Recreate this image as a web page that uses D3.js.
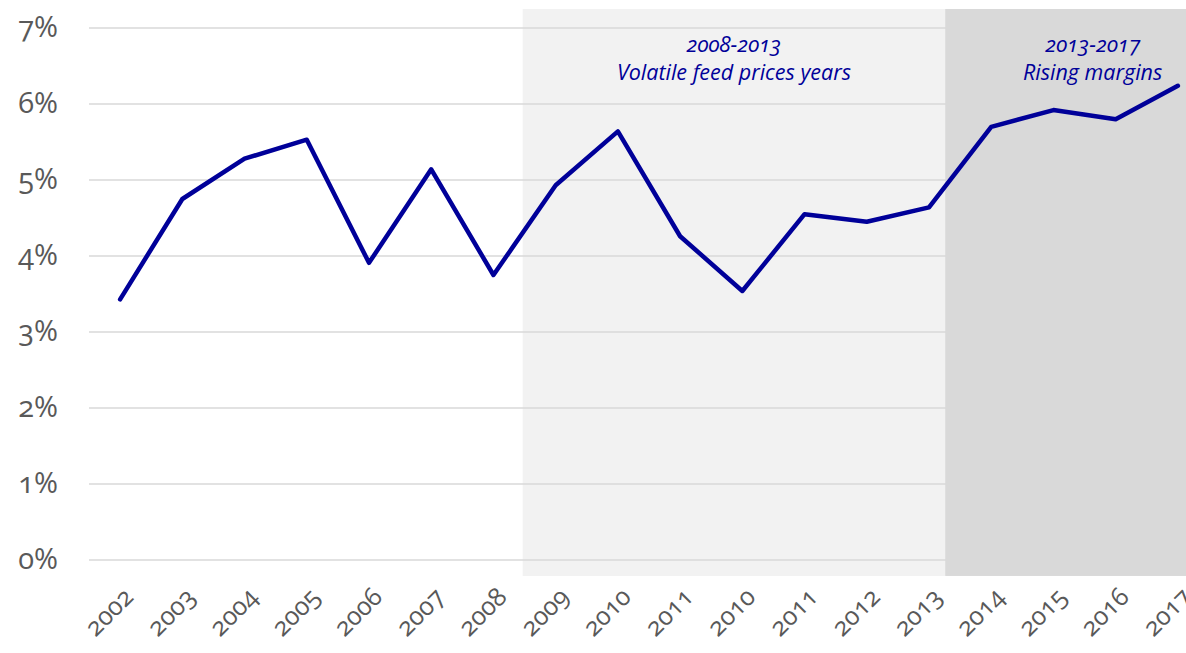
<!DOCTYPE html>
<html>
<head>
<meta charset="utf-8">
<script src="https://cdn.jsdelivr.net/npm/d3@7"></script>
<style>
  html, body { margin: 0; padding: 0; background: #fff; overflow: hidden; }
  svg { display: block; }
  svg text { font-family: "Open Sans", "Noto Sans", sans-serif; font-variant-numeric: oldstyle-nums; font-feature-settings: "onum" 1; }
</style>
</head>
<body>
<svg id="chart" width="1186" height="653"></svg>
<script>
// Category labels along the x axis (the series repeats 2010 and 2011)
const years = ["2002","2003","2004","2005","2006","2007","2008","2009","2010","2011",
               "2010","2011","2012","2013","2014","2015","2016","2017"];
// Margin, in percent
const margin = [3.43, 4.75, 5.28, 5.53, 3.91, 5.14, 3.75, 4.93, 5.64, 4.26,
                3.54, 4.55, 4.45, 4.64, 5.70, 5.92, 5.80, 6.24];
// Y tick values (percent)
const yTicks = [0, 1, 2, 3, 4, 5, 6, 7];
// Shaded periods, given as positions on the category index axis
const periodLabels = ["2008-2013", "2013-2017"];
const periodNotes = ["Volatile feed prices years", "Rising margins"];
const periodFrom = [6.47, 13.26];
const periodTo = [13.26, 17.5];
const periodFill = ["#f2f2f2", "#d9d9d9"];

const svg = d3.select("#chart");
const plot = { left: 89, right: 1209, top: 28, bottom: 560 };

const x = d3.scalePoint()
  .domain(d3.range(years.length))
  .range([plot.left, plot.right])
  .padding(0.5);
const step = x.step();
const xi = d3.scaleLinear()
  .domain([0, years.length - 1])
  .range([x(0), x(years.length - 1)]);

const y = d3.scaleLinear().domain([0, 7]).range([plot.bottom, plot.top]);

const shadeTop = y(7.25), shadeBottom = y(-0.21);

// Background band for the first period (under the gridlines)
svg.append("rect")
  .attr("x", xi(periodFrom[0]))
  .attr("y", shadeTop)
  .attr("width", xi(periodTo[0]) - xi(periodFrom[0]))
  .attr("height", shadeBottom - shadeTop)
  .attr("fill", periodFill[0]);

// Horizontal gridlines
svg.append("g")
  .selectAll("line")
  .data(yTicks)
  .join("line")
  .attr("x1", plot.left)
  .attr("x2", plot.right)
  .attr("y1", d => y(d))
  .attr("y2", d => y(d))
  .attr("stroke", "#d9d9d9")
  .attr("stroke-width", 1.5);

// Second period band covers the gridlines
svg.append("rect")
  .attr("x", xi(periodFrom[1]))
  .attr("y", shadeTop)
  .attr("width", xi(periodTo[1]) + step / 2 - xi(periodFrom[1]))
  .attr("height", shadeBottom - shadeTop)
  .attr("fill", periodFill[1]);

// Y axis labels
const yAxis = d3.axisLeft(y).tickValues(yTicks).tickFormat(d => d + "%").tickSize(0).tickPadding(0);
const gy = svg.append("g").attr("transform", `translate(${plot.left - 31},0)`).call(yAxis);
gy.attr("font-family", null).attr("font-size", null);
gy.select(".domain").remove();
gy.selectAll("text")
  .attr("fill", "#595959")
  .style("font-size", "29px")
  .attr("dy", "0.3em");

// X axis labels, rotated
const xAxis = d3.axisBottom(x).tickFormat(i => years[i]).tickSize(0).tickPadding(0);
const gx = svg.append("g").attr("transform", `translate(0,${plot.bottom})`).call(xAxis);
gx.attr("font-family", null).attr("font-size", null);
gx.select(".domain").remove();
gx.selectAll("text")
  .attr("fill", "#595959")
  .style("font-size", "25.5px")
  .attr("text-anchor", "end")
  .attr("dy", "0.35em")
  .attr("transform", "translate(8,32) rotate(-45)");

// Period annotations
const periodCenters = [
  (xi(periodFrom[0]) + xi(periodTo[0])) / 2,
  (xi(periodFrom[1]) + xi(periodTo[1]) + step / 2) / 2
];
periodLabels.forEach((lab, k) => {
  const t = svg.append("text")
    .attr("x", periodCenters[k])
    .attr("y", 52)
    .attr("text-anchor", "middle")
    .attr("fill", "#000099")
    .style("font-style", "italic")
    .style("font-size", "21.5px");
  t.append("tspan").attr("x", periodCenters[k]).text(lab);
  t.append("tspan").attr("x", periodCenters[k]).attr("dy", 28).text(periodNotes[k]);
});

// Margin line
const line = d3.line().x((d, i) => x(i)).y(d => y(d));
svg.append("path")
  .datum(margin)
  .attr("d", line)
  .attr("fill", "none")
  .attr("stroke", "#000099")
  .attr("stroke-width", 4.5)
  .attr("stroke-linejoin", "round")
  .attr("stroke-linecap", "round");
</script>
</body>
</html>
